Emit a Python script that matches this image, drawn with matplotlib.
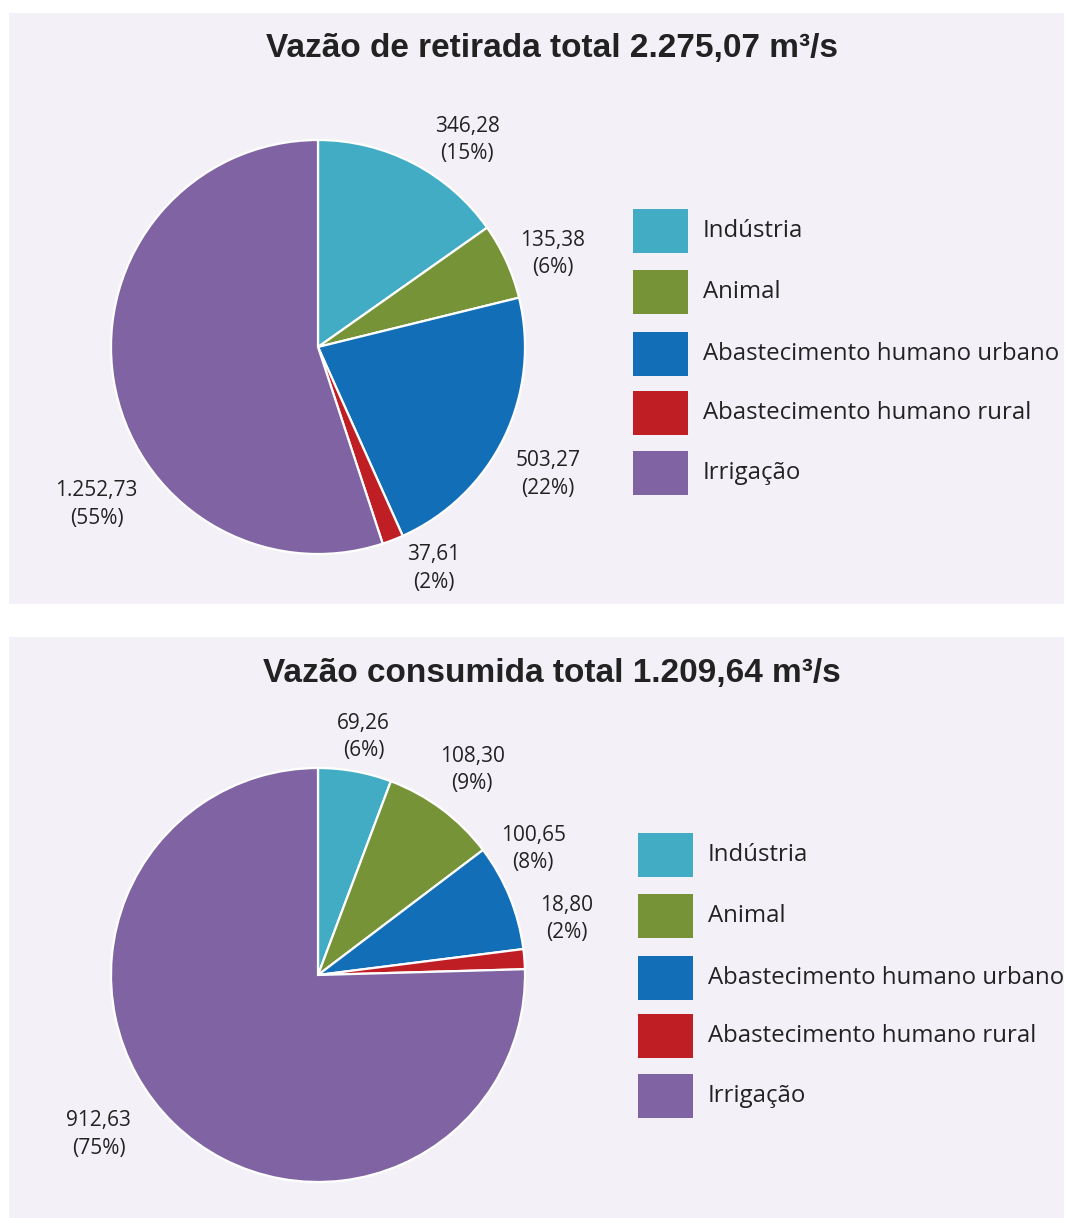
import matplotlib
matplotlib.use("Agg")
import matplotlib.pyplot as plt
from matplotlib.patches import Rectangle
import numpy as np

categories = ["Indústria", "Animal", "Abastecimento humano urbano",
              "Abastecimento humano rural", "Irrigação"]
colors = ["#42ACC4", "#769337", "#136EB8", "#C01E25", "#8063A2"]

retirada_values = [346.28, 135.38, 503.27, 37.61, 1252.73]
retirada_labels = ["346,28", "135,38", "503,27", "37,61", "1.252,73"]
retirada_pct = ["15%", "6%", "22%", "2%", "55%"]
retirada_title = "Vazão de retirada total 2.275,07 m³/s"

consumo_values = [69.26, 108.30, 100.65, 18.80, 912.63]
consumo_labels = ["69,26", "108,30", "100,65", "18,80", "912,63"]
consumo_pct = ["6%", "9%", "8%", "2%", "75%"]
consumo_title = "Vazão consumida total 1.209,64 m³/s"

W, H = 1065, 1218
fig = plt.figure(figsize=(W / 100, H / 100), dpi=100)
fig.patch.set_facecolor("white")

BG = "#F3F1F7"
TXT = "#222222"
LBL_FONT = ["Open Sans", "DejaVu Sans"]


def fx(px):
    return px / W


def fy(py):
    return 1 - py / H


def panel(y0, y1):
    fig.add_artist(Rectangle((fx(9), fy(y1)), fx(1064) - fx(9), fy(y0) - fy(y1),
                             transform=fig.transFigure, facecolor=BG,
                             edgecolor="none", zorder=0))


def draw_pie(values, labels, pcts, title, cx, cy, r, label_pos,
             title_y, leg_x, leg_ys):
    L = 1.5
    size = 2 * L * r
    ax = fig.add_axes([fx(cx - size / 2), fy(cy + size / 2), size / W, size / H])
    ax.pie(values, colors=colors, startangle=90, counterclock=False,
           radius=1.0, wedgeprops=dict(edgecolor="white", linewidth=1.6))
    ax.set_xlim(-L, L)
    ax.set_ylim(-L, L)
    ax.set_aspect("equal")
    ax.axis("off")
    ax.patch.set_alpha(0)
    for (x, y), lab, p in zip(label_pos, labels, pcts):
        ax.text(x, y, f"{lab}\n({p})", ha="center", va="center",
                fontsize=15, color=TXT, family=LBL_FONT,
                linespacing=1.4, clip_on=False)
    fig.text(fx(552), fy(title_y), title, ha="center", va="center",
             fontsize=24, fontweight="bold", color=TXT,
             family=["Liberation Sans", "DejaVu Sans"])
    for cat, col, ly in zip(categories, colors, leg_ys):
        fig.add_artist(Rectangle((fx(leg_x), fy(ly + 22)), 55 / W, 44 / H,
                                 transform=fig.transFigure, facecolor=col,
                                 edgecolor="none", zorder=2))
        fig.text(fx(leg_x + 70), fy(ly), cat, ha="left", va="center",
                 fontsize=17.3, color=TXT, family=LBL_FONT)


panel(13, 604)
panel(637, 1218)

draw_pie(retirada_values, retirada_labels, retirada_pct, retirada_title,
         318, 347, 207,
         [(0.72, 1.0), (1.135, 0.45), (1.11, -0.615), (0.56, -1.07), (-1.07, -0.76)],
         48, 633, [231, 292, 354, 413, 473])

draw_pie(consumo_values, consumo_labels, consumo_pct, consumo_title,
         318, 975, 207,
         [(0.22, 1.15), (0.745, 0.99), (1.04, 0.61), (1.2, 0.27), (-1.06, -0.77)],
         673, 638, [855, 916, 978, 1036, 1096])

fig.savefig("out.png", dpi=100, facecolor="white")
